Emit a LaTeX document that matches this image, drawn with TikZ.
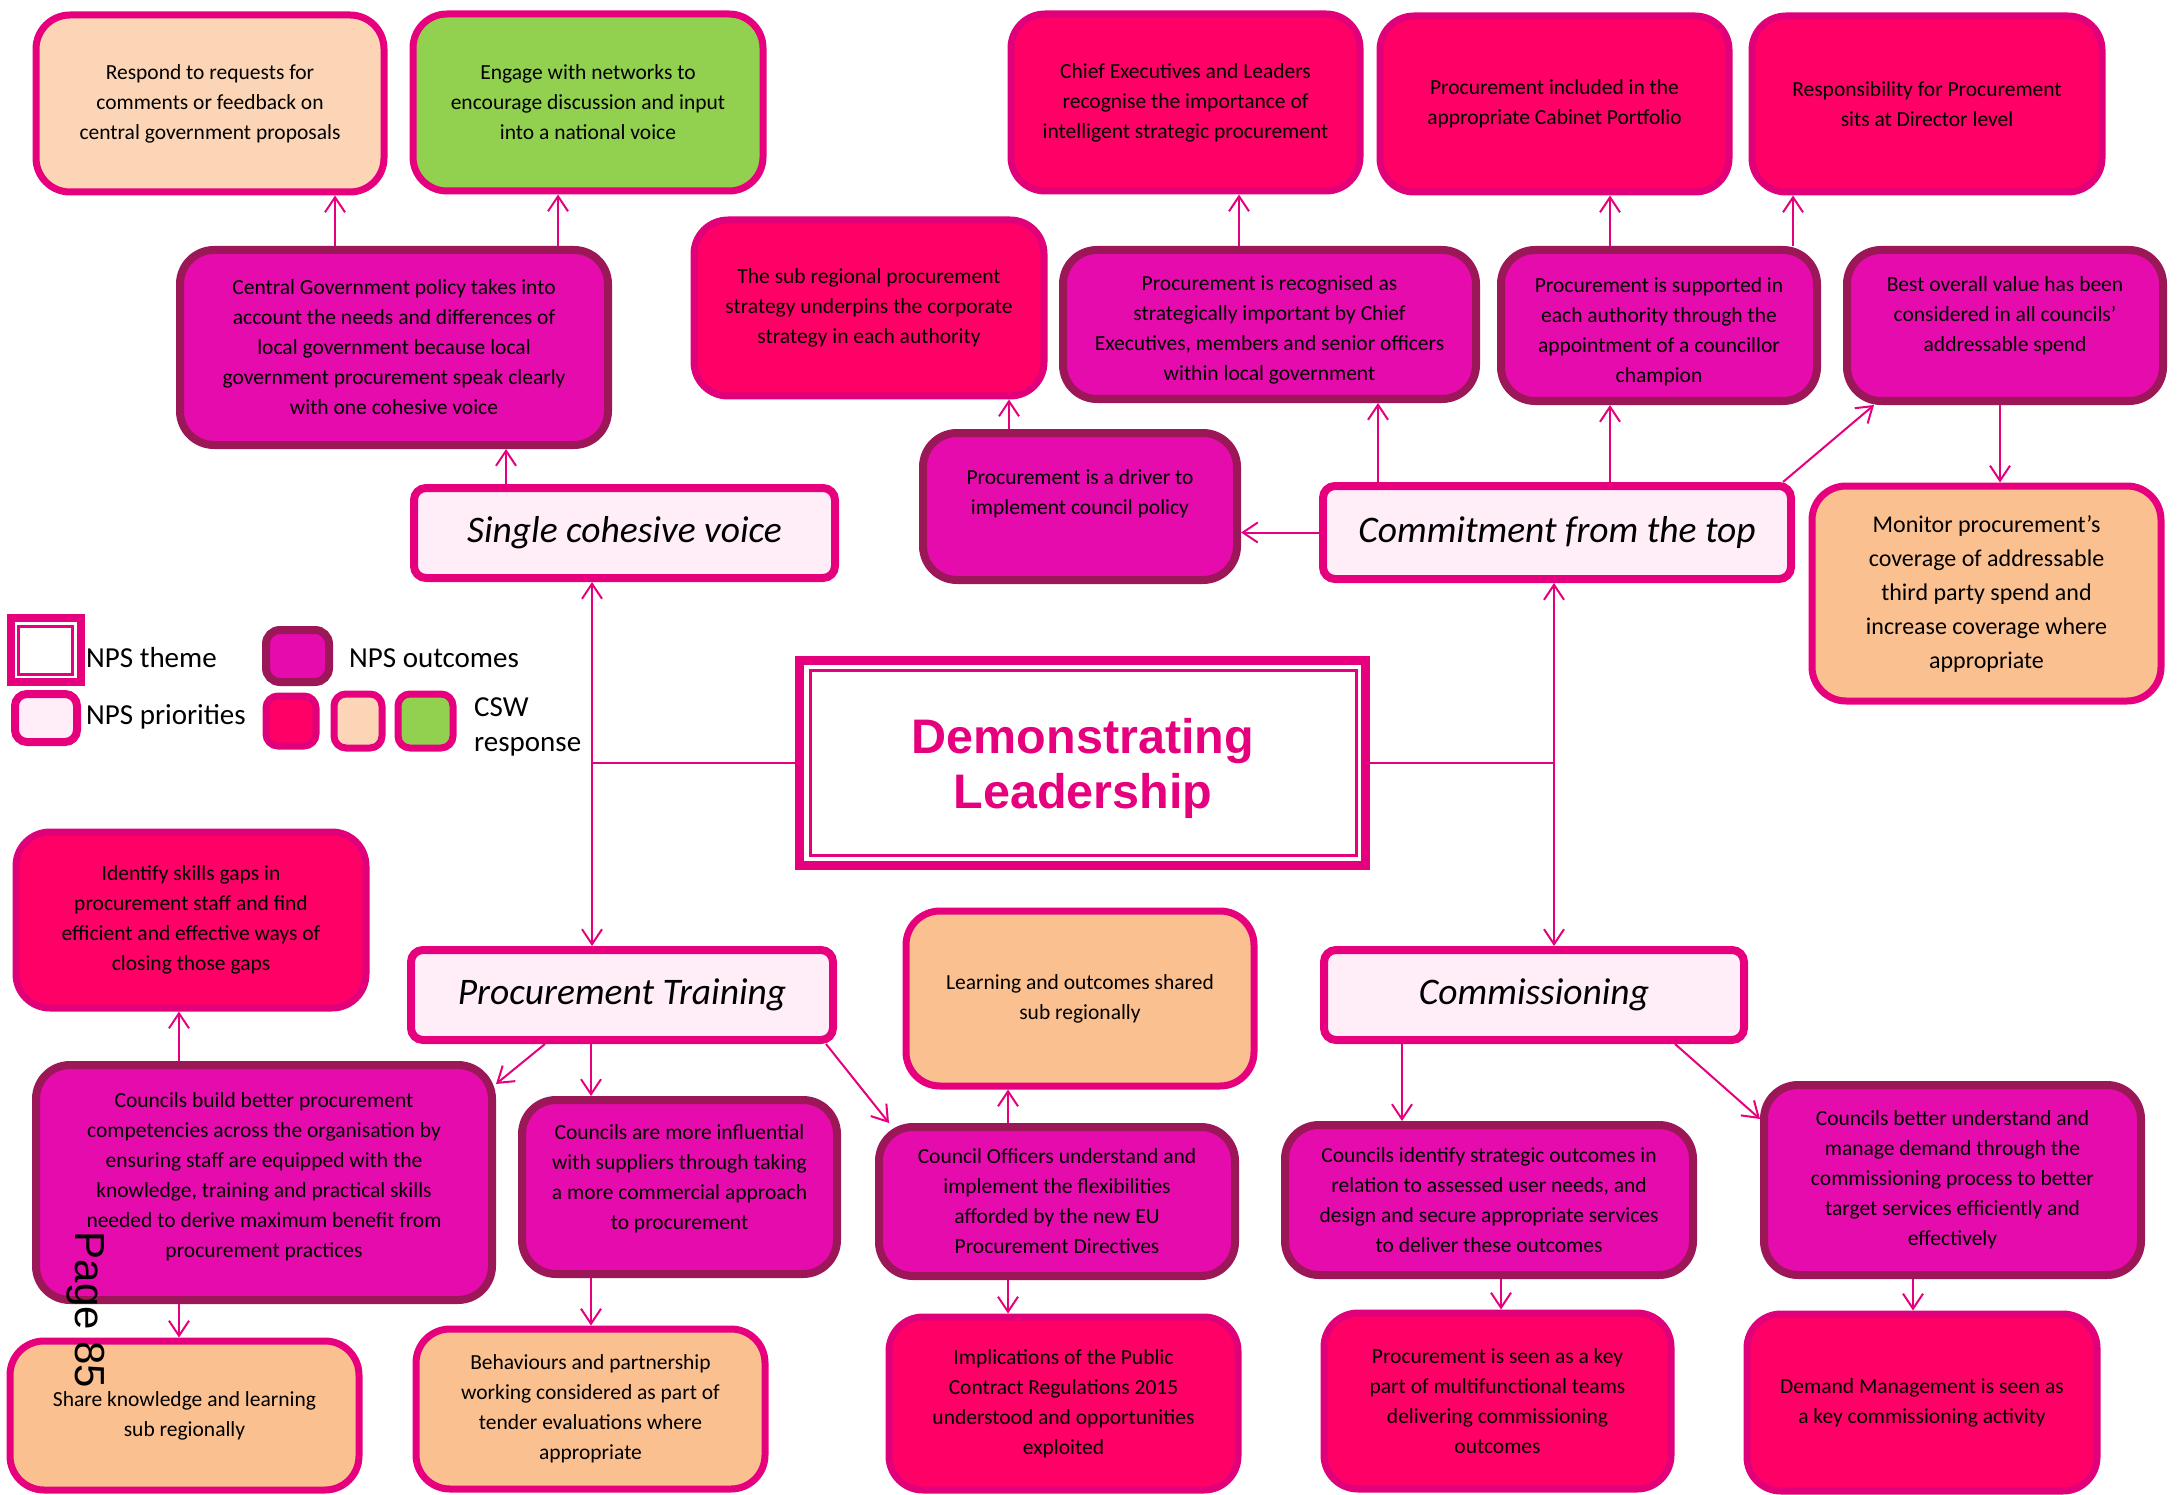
\documentclass[tikz,border=0pt]{standalone}
\usepackage{fontspec}
\setmainfont{Carlito}
\newfontfamily\arialf{Liberation Sans}
\usetikzlibrary{arrows.meta,calc}
\definecolor{mag}{HTML}{E6007E}
\definecolor{priofill}{HTML}{FFEEF8}
\definecolor{outfill}{HTML}{E60BAD}
\definecolor{outdraw}{HTML}{9C1757}
\definecolor{redfill}{HTML}{FF0066}
\definecolor{reddraw}{HTML}{E0007A}
\definecolor{peachL}{HTML}{FBD5B5}
\definecolor{peachD}{HTML}{FAC090}
\definecolor{greenf}{HTML}{92D050}
\tikzset{
  cbox/.style={rounded corners=34pt, align=center, inner sep=0pt, font=\fontsize{21.5}{30}\selectfont},
  outc/.style={cbox, draw=outdraw, fill=outfill, line width=8pt},
  redb/.style={cbox, draw=reddraw, fill=redfill, line width=7pt},
  peachl/.style={cbox, draw=mag, fill=peachL, line width=7pt},
  peachd/.style={cbox, draw=mag, fill=peachD, line width=7pt},
  greenb/.style={cbox, draw=mag, fill=greenf, line width=7pt},
  prio/.style={rounded corners=12pt, draw=mag, fill=priofill, line width=8pt, inner sep=0pt, font=\fontsize{37.5}{40}\selectfont\itshape},
  arr/.style={draw=mag, line width=2pt, -{Straight Barb[length=15pt,width=20pt]}},
  darr/.style={draw=mag, line width=2pt, {Straight Barb[length=15pt,width=20pt]}-{Straight Barb[length=15pt,width=20pt]}},
  ln/.style={draw=mag, line width=2pt},
  legtxt/.style={anchor=west, inner sep=0pt, font=\fontsize{29}{34}\selectfont},
}
\begin{document}
\begin{tikzpicture}[x=1pt,y=-1pt]
\useasboundingbox[fill=white] (0,0) rectangle (2179,1495);

% ---- top row: CSW responses
\node[peachl, minimum width=348pt, minimum height=177pt] (respond) at (210,103.5) {Respond to requests for\\comments or feedback on\\central government proposals};
\node[greenb, minimum width=350pt, minimum height=177pt] (engage) at (588,102.5) {Engage with networks to\\encourage discussion and input\\into a national voice};
\node[redb, minimum width=349pt, minimum height=177pt] (chief) at (1185.5,102.5) {Chief Executives and Leaders\\recognise the importance of\\intelligent strategic procurement};
\node[redb, minimum width=349pt, minimum height=176pt] (cabinet) at (1554.5,104) {Procurement included in the\\appropriate Cabinet Portfolio};
\node[redb, minimum width=350pt, minimum height=176pt] (respons) at (1927,104) {Responsibility for Procurement\\sits at Director level};

% ---- outcomes row 2
\node[outc, minimum width=428pt, minimum height=195pt] (cg) at (394,347.5) {Central Government policy takes into\\account the needs and differences of\\local government because local\\government procurement speak clearly\\with one cohesive voice};
\node[redb, minimum width=350pt, minimum height=176pt] (subreg) at (869,308) {The sub regional procurement\\strategy underpins the corporate\\strategy in each authority};
\node[outc, minimum width=413pt, minimum height=149pt, text height=116.5pt] (precog) at (1269.5,324.5) {Procurement is recognised as\\strategically important by Chief\\Executives, members and senior officers\\within local government};
\node[outc, minimum width=316pt, minimum height=151pt, text height=116.5pt] (supported) at (1659,325.5) {Procurement is supported in\\each authority through the\\appointment of a councillor\\champion};
\node[outc, minimum width=316pt, minimum height=151pt, text depth=22pt] (bestval) at (2005,325.5) {Best overall value has been\\considered in all councils’\\addressable spend};

% ---- priorities row
\node[prio, minimum width=421pt, minimum height=90pt] (scv) at (624.5,533) {Single cohesive voice};
\node[outc, minimum width=314pt, minimum height=147pt, text depth=28pt] (driver) at (1080,506.5) {Procurement is a driver to\\implement council policy};
\node[prio, minimum width=468pt, minimum height=93pt] (commit) at (1557,532.5) {Commitment from the top};
\node[peachd, minimum width=349pt, minimum height=215pt, font=\fontsize{24}{34}\selectfont] (monitor) at (1986.5,593.5) {Monitor procurement’s\\coverage of addressable\\third party spend and\\increase coverage where\\appropriate};

% ---- legend
\node[draw=mag, line width=8pt, minimum width=70pt, minimum height=64pt, inner sep=0pt] (legtheme) at (46,650) {};
\node[draw=mag, line width=3pt, minimum width=54pt, minimum height=48pt, inner sep=0pt] (legthemein) at (45,650) {};
\node[legtxt] (legthemet) at (86,658) {NPS theme};
\node[prio, minimum width=62pt, minimum height=48pt] (legprio) at (46,718) {};
\node[legtxt] (legpriot) at (86,717) {NPS priorities};
\node[outc, rounded corners=14pt, minimum width=63pt, minimum height=52pt] (legout) at (297.5,656) {};
\node[legtxt] (legoutt) at (349,658) {NPS outcomes};
\node[redb, rounded corners=12pt, minimum width=50pt, minimum height=50pt] (legred) at (291,721) {};
\node[peachl, rounded corners=12pt, minimum width=48pt, minimum height=54pt] (legpeach) at (358,721) {};
\node[greenb, rounded corners=12pt, minimum width=55pt, minimum height=54pt] (leggreen) at (425.5,721) {};
\node[legtxt] (legcsw) at (474,707) {CSW};
\node[legtxt] (legresp) at (474,747) {response};

% ---- central theme
\node[draw=mag, line width=9pt, fill=white, minimum width=566pt, minimum height=205pt, inner sep=0pt] (demo) at (1082.5,763) {};
\node[draw=mag, line width=3pt, minimum width=546pt, minimum height=185.5pt, inner sep=0pt, align=center, text=mag, text height=101pt, text depth=10pt, font=\arialf\bfseries\fontsize{48.5}{55}\selectfont] (demotxt) at (1083,763) {Demonstrating\\Leadership};

% ---- lower left
\node[redb, minimum width=350pt, minimum height=176pt] (identify) at (191,920) {Identify skills gaps in\\procurement staff and find\\efficient and effective ways of\\closing those gaps};
\node[prio, minimum width=422pt, minimum height=90pt] (pt) at (622,995) {Procurement Training};
\node[outc, minimum width=456pt, minimum height=235pt, text depth=14pt] (cb) at (264,1182.5) {Councils build better procurement\\competencies across the organisation by\\ensuring staff are equipped with the\\knowledge, training and practical skills\\needed to derive maximum benefit from\\procurement practices};
\node[outc, minimum width=315pt, minimum height=174pt, text depth=19pt] (influ) at (679.5,1187) {Councils are more influential\\with suppliers through taking\\a more commercial approach\\to procurement};
\node[peachd, minimum width=349pt, minimum height=149pt] (share) at (184.5,1415.5) {Share knowledge and learning\\sub regionally};
\node[peachd, minimum width=349pt, minimum height=160pt] (behav) at (590.5,1409) {Behaviours and partnership\\working considered as part of\\tender evaluations where\\appropriate};

% ---- lower middle
\node[peachd, minimum width=348pt, minimum height=175pt] (learning) at (1080,998.5) {Learning and outcomes shared\\sub regionally};
\node[outc, minimum width=356pt, minimum height=149pt] (co) at (1057,1201.5) {Council Officers understand and\\implement the flexibilities\\afforded by the new EU\\Procurement Directives};
\node[redb, minimum width=349pt, minimum height=173pt] (implic) at (1063.5,1403.5) {Implications of the Public\\Contract Regulations 2015\\understood and opportunities\\exploited};

% ---- lower right
\node[prio, minimum width=420pt, minimum height=90pt] (comm) at (1534,995) {Commissioning};
\node[outc, minimum width=408pt, minimum height=150pt] (cident) at (1489,1200) {Councils identify strategic outcomes in\\relation to assessed user needs, and\\design and secure appropriate services\\to deliver these outcomes};
\node[outc, minimum width=377pt, minimum height=190pt] (better) at (1952.5,1180) {Councils better understand and\\manage demand through the\\commissioning process to better\\target services efficiently and\\effectively};
\node[redb, minimum width=347pt, minimum height=176pt] (pkey) at (1497.5,1401) {Procurement is seen as a key\\part of multifunctional teams\\delivering commissioning\\outcomes};
\node[redb, minimum width=350pt, minimum height=177pt] (demand) at (1922,1402.5) {Demand Management is seen as\\a key commissioning activity};

% ---- page number
\node[rotate=-90, inner sep=0pt, font=\arialf\fontsize{42}{46}\selectfont] (pagenum) at (86,1310) {Page 85};

% ---- connectors
\draw[arr] (cg.north -| 335,0) -- (respond.south -| 335,0);
\draw[arr] (cg.north -| 558,0) -- (engage.south -| 558,0);
\draw[arr] (scv.north -| 506,0) -- (cg.south -| 506,0);
\draw[arr] (driver.north -| 1009,0) -- (subreg.south -| 1009,0);
\draw[arr] (precog.north -| 1239,0) -- (chief.south -| 1239,0);
\draw[arr] (commit.north -| 1378,0) -- (precog.south -| 1378,0);
\draw[arr] (supported.north -| 1610,0) -- (cabinet.south -| 1610,0);
\draw[arr] (supported.north -| 1793,0) -- (respons.south -| 1793,0);
\draw[arr] (commit.north -| 1610,0) -- (supported.south -| 1610,0);
\draw[arr] (commit.north -| 1783,0) -- (bestval.south -| 1874,0);
\draw[arr] (bestval.south -| 2000,0) -- (monitor.north -| 2000,0);
\draw[arr] (commit.west) -- (commit.west -| driver.east);
\draw[darr] (scv.south -| 592,0) -- (pt.north -| 592,0);
\draw[ln] (demo.west) -- (demo.west -| 592,0);
\draw[darr] (commit.south -| 1554,0) -- (comm.north -| 1554,0);
\draw[ln] (demo.east) -- (demo.east -| 1554,0);
\draw[arr] (cb.north -| 179,0) -- (identify.south -| 179,0);
\draw[arr] (cb.south -| 179,0) -- (share.north -| 179,0);
\draw[arr] (pt.south -| 545,0) -- (cb.east |- 0,1084);
\draw[arr] (pt.south -| 591,0) -- (influ.north -| 591,0);
\draw[arr] (influ.south -| 591,0) -- (behav.north -| 591,0);
\draw[arr] (pt.south -| 826,0) -- (co.north -| 889,0);
\draw[arr] (co.north -| 1008,0) -- (learning.south -| 1008,0);
\draw[arr] (co.south -| 1008,0) -- (implic.north -| 1008,0);
\draw[arr] (comm.south -| 1402,0) -- (cident.north -| 1402,0);
\draw[arr] (comm.south -| 1675,0) -- (better.west |- 0,1119);
\draw[arr] (cident.south -| 1501,0) -- (pkey.north -| 1501,0);
\draw[arr] (better.south -| 1913,0) -- (demand.north -| 1913,0);
\end{tikzpicture}
\end{document}
